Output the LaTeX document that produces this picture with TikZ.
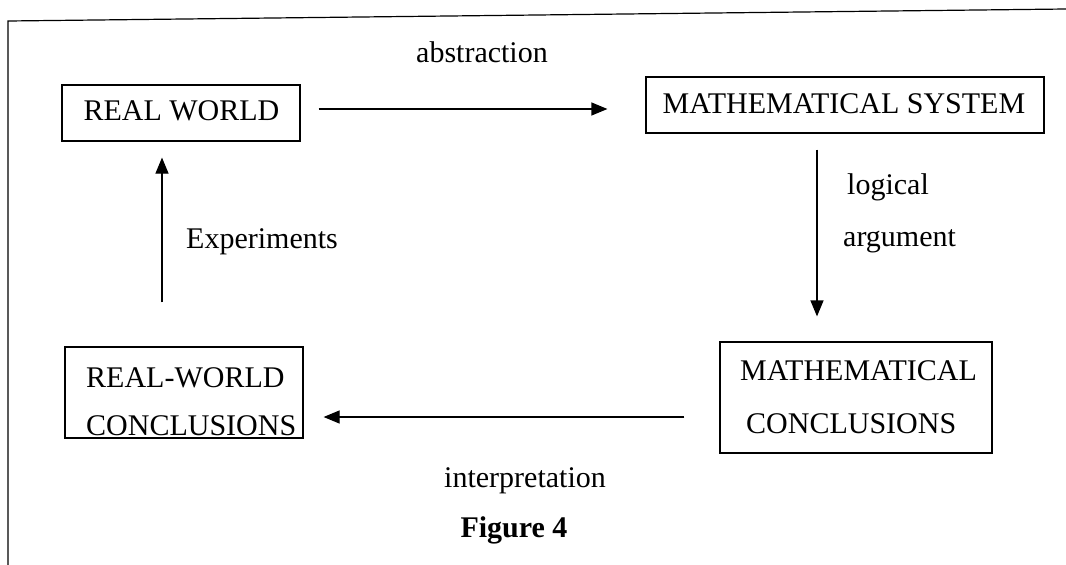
\documentclass[tikz,border=0pt]{standalone}
\usepackage{fontspec}
\setmainfont{Liberation Serif}
\usetikzlibrary{arrows.meta,calc}
\begin{document}
\begin{tikzpicture}[x=1pt,y=-1pt,
  box/.style={draw,line width=1.2pt,inner sep=0pt},
  lbl/.style={inner sep=0pt,font=\fontsize{30}{36}\selectfont},
  conn/.style={line width=1.2pt,-{Triangle[length=16pt,width=13pt]}},
  frameline/.style={line width=1.2pt}]
\useasboundingbox (0,0) rectangle (1066,565);
% outer frame (partial)
\coordinate (f1) at (8,565);
\coordinate (f2) at (8,21);
\coordinate (f3) at (1066,9);
\draw[frameline] (f1) -- (f2) -- (f3);

% boxes
\node[box,minimum width=238pt,minimum height=56pt] (rw) at (181,113) {};
\node[box,minimum width=398pt,minimum height=56pt] (ms) at (845,105) {};
\node[box,minimum width=238pt,minimum height=91pt] (rwc) at (184,392.5) {};
\node[box,minimum width=272pt,minimum height=111pt] (mc) at (856,397.5) {};

% box texts
\node[lbl,anchor=base] (rwt) at (181.5,120) {REAL WORLD};
\node[lbl,anchor=base] (mst) at (844,113) {MATHEMATICAL SYSTEM};
\node[lbl,anchor=base west] (rwct1) at (86,387) {REAL-WORLD};
\node[lbl,anchor=base west] (rwct2) at (86,435) {CONCLUSIONS};
\node[lbl,anchor=base west] (mct1) at (740,380) {MATHEMATICAL};
\node[lbl,anchor=base west] (mct2) at (746,433) {CONCLUSIONS};

% connectors
\draw[conn] ($(rw.east)+(18,-4)$) -- ($(ms.west)+(-38,4)$);
\draw[conn] ($(ms.south)+(-28,16)$) -- ($(mc.north)+(-39,-25)$);
\draw[conn] ($(mc.west)+(-35,19.5)$) -- ($(rwc.east)+(20,24.5)$);
\draw[conn] ($(rwc.north)+(-22,-44)$) -- ($(rw.south)+(-19,16)$);

% labels
\node[lbl,anchor=base] (labs) at (482,62) {abstraction};
\node[lbl,anchor=base west] (llog) at (847,194) {logical};
\node[lbl,anchor=base west] (larg) at (843,246) {argument};
\node[lbl,anchor=base] (lexp) at (262,248) {Experiments};
\node[lbl,anchor=base] (lint) at (525,487) {interpretation};
\node[lbl,anchor=base,font=\fontsize{30}{36}\selectfont\bfseries] (fig) at (514,537) {Figure 4};
\end{tikzpicture}
\end{document}
